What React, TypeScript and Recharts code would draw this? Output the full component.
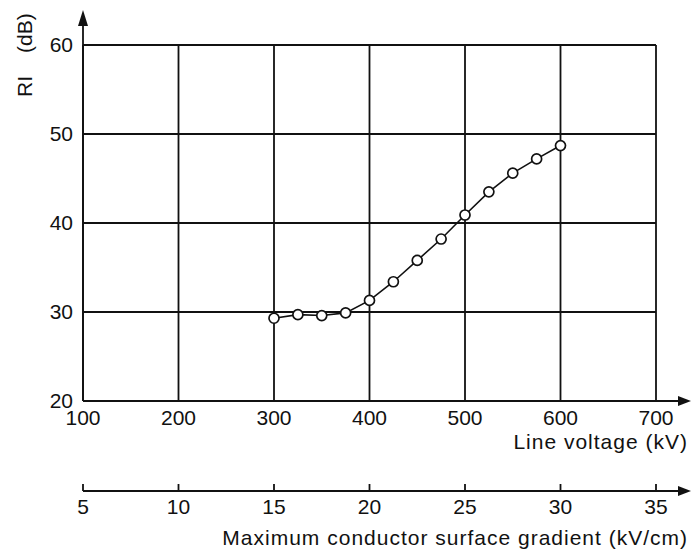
import { LineChart, Line, XAxis, YAxis, CartesianGrid } from 'recharts'

// RI vs line voltage
const voltage = [300, 325, 350, 375, 400, 425, 450, 475, 500, 525, 550, 575, 600]
const ri = [29.3, 29.7, 29.6, 29.9, 31.3, 33.4, 35.8, 38.2, 40.9, 43.5, 45.6, 47.2, 48.7]

const voltageTicks = [100, 200, 300, 400, 500, 600, 700]
const gradientTicks = [5, 10, 15, 20, 25, 30, 35]
const riTicks = [20, 30, 40, 50, 60]

const W = 692
const H = 555
const margin = { top: 45, right: 36, bottom: 0, left: 0 }
const Y_AXIS_W = 83
const X1_H = 90
const X2_H = 64

const INK = '#111'
const FONT = '"Liberation Sans", Arial, Helvetica, sans-serif'
const tickStyle = { fontSize: 21, fill: INK, fontFamily: FONT }

// gradient axis runs 5..35 kV/cm over 100..700 kV
const data = voltage.map((v, i) => ({ v, g: v / 20, ri: ri[i] }))

const plotLeft = margin.left + Y_AXIS_W
const plotTop = margin.top
const plotBottom = H - margin.bottom - X1_H - X2_H
const axis2Y = plotBottom + X1_H
const arrowEnd = W - 1

function Arrows() {
  return (
    <svg width={W} height={H} style={{ position: 'absolute', left: 0, top: 0, pointerEvents: 'none' }}>
      <g stroke={INK} strokeWidth={1.8} fill={INK}>
        <line x1={plotLeft} y1={plotBottom} x2={plotLeft} y2={plotTop - 20} />
        <polygon points={`${plotLeft},${plotTop - 35} ${plotLeft - 5},${plotTop - 19} ${plotLeft + 5},${plotTop - 19}`} strokeWidth={0} />
        <line x1={plotLeft} y1={plotBottom} x2={arrowEnd - 10} y2={plotBottom} />
        <polygon points={`${arrowEnd},${plotBottom} ${arrowEnd - 13},${plotBottom - 5} ${arrowEnd - 13},${plotBottom + 5}`} strokeWidth={0} />
        <line x1={plotLeft} y1={axis2Y} x2={arrowEnd - 10} y2={axis2Y} />
        <polygon points={`${arrowEnd},${axis2Y} ${arrowEnd - 13},${axis2Y - 5} ${arrowEnd - 13},${axis2Y + 5}`} strokeWidth={0} />
      </g>
    </svg>
  )
}

const yLabel = (props: any) => {
  const vb = props.viewBox
  const x = vb.x + 32
  const y = vb.y + 52
  return (
    <text transform={`rotate(-90 ${x} ${y})`} x={x} y={y} textAnchor="start" fontSize={21} fill={INK} fontFamily={FONT}>
      <tspan>RI</tspan>
      <tspan dx={23}>(dB)</tspan>
    </text>
  )
}

const xLabel = (text: string, dy: number) => (props: any) => {
  const vb = props.viewBox
  return (
    <text x={vb.x + vb.width + 32} y={vb.y + dy} textAnchor="end" fontSize={21} letterSpacing={1} fill={INK} fontFamily={FONT}>
      {text}
    </text>
  )
}

export default function App() {
  return (
    <div style={{ position: 'relative', width: W, height: H, background: '#fff' }}>
      <style>{'body{margin:0}'}</style>
      <LineChart width={W} height={H} data={data} margin={margin}>
        <CartesianGrid stroke={INK} strokeWidth={1.8} />
        <XAxis
          dataKey="v"
          type="number"
          domain={[100, 700]}
          ticks={voltageTicks}
          interval={0}
          height={X1_H}
          axisLine={false}
          tickLine={false}
          tickSize={0}
          tickMargin={9}
          tick={tickStyle}
          label={xLabel('Line voltage (kV)', 48)}
        />
        <XAxis
          xAxisId="grad"
          dataKey="g"
          type="number"
          domain={[5, 35]}
          ticks={gradientTicks}
          interval={0}
          height={X2_H}
          axisLine={false}
          tickLine={{ stroke: INK, strokeWidth: 1.8 }}
          tickSize={-7}
          tickMargin={15}
          tick={tickStyle}
          label={xLabel('Maximum conductor surface gradient (kV/cm)', 54)}
        />
        <YAxis
          type="number"
          domain={[20, 60]}
          ticks={riTicks}
          interval={0}
          width={Y_AXIS_W}
          axisLine={false}
          tickLine={false}
          tickSize={0}
          tickMargin={10}
          tick={tickStyle}
          label={yLabel}
        />
        <Line
          dataKey="ri"
          type="linear"
          stroke={INK}
          strokeWidth={1.6}
          dot={{ r: 5, fill: '#fff', stroke: INK, strokeWidth: 1.7 }}
          isAnimationActive={false}
        />
      </LineChart>
      <Arrows />
    </div>
  )
}
